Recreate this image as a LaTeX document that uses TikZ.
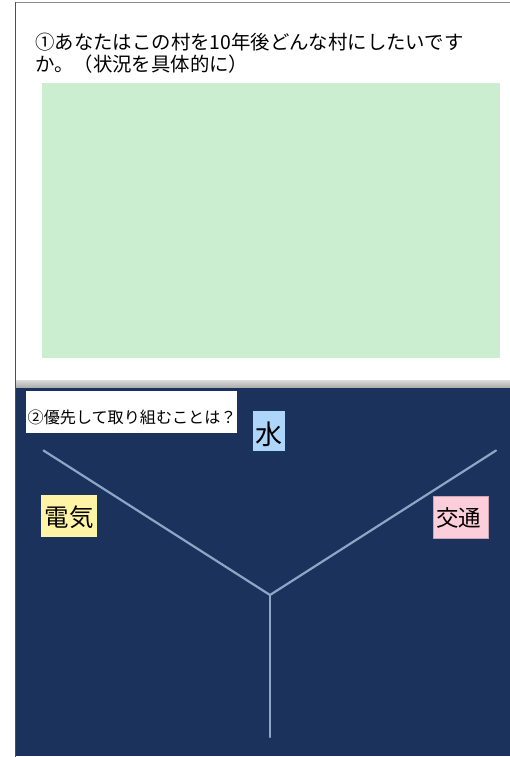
\documentclass[tikz,border=0pt]{standalone}
\usepackage{fontspec}
\setmainfont{Noto Sans CJK JP}
\definecolor{navy}{HTML}{1B325C}
\definecolor{armline}{HTML}{8CA6C6}
\definecolor{greenfill}{HTML}{CBEED1}
\definecolor{bluefill}{HTML}{AED6FA}
\definecolor{yellowfill}{HTML}{FFF4A6}
\definecolor{pinkfill}{HTML}{FCCDDA}
\definecolor{framegray}{HTML}{505050}
\begin{document}
\begin{tikzpicture}[x=1pt,y=-1pt,
  txt/.style={inner sep=0pt,anchor=base west,text=black},
  arm/.style={draw=armline,line width=2.2pt,line cap=round}]
\useasboundingbox (0,0) rectangle (510,757);
\fill[white] (0,0) rectangle (510,757);
% top white panel
\fill[white] (16,3) rectangle (510,380);
% separator band
\shade[top color=black!14,bottom color=black!34] (16,380) rectangle (510,388);
% navy panel
\fill[navy] (16,388) rectangle (510,756);
% frame lines
\draw[black!45,line width=1pt] (15,2.5) -- (510,2.5);
\draw[framegray,line width=1.2pt] (15.5,2) -- (15.5,757);
% green answer area
\node[fill=greenfill,minimum width=458,minimum height=275,inner sep=0pt,anchor=north west] (answer) at (42,83) {};
% question 1
\node[txt,font=\fontsize{19.4}{22}\selectfont] (q1a) at (35,49.5) {①あなたはこの村を10年後どんな村にしたいです};
\node[txt,font=\fontsize{19.4}{22}\selectfont] (q1b) at (35,71.5) {か。（状況を具体的に）};
% question 2 box
\node[fill=white,minimum width=211,minimum height=42,inner sep=0pt,anchor=north west] (q2box) at (26,391) {};
\node[txt,font=\fontsize{16.1}{18}\selectfont] (q2) at (27.5,423.5) {②優先して取り組むことは？};
% Y lines
\coordinate (c) at (270,595);
\coordinate (lt) at (43.5,450.5);
\coordinate (rt) at (496,450.5);
\coordinate (bt) at (270,737);
\draw[arm] (lt) -- (c) -- (rt);
\draw[arm] (c) -- (bt);
% labels
\node[fill=bluefill,minimum width=32,minimum height=40,inner sep=0pt,anchor=north west] (waterbox) at (253,411) {};
\node[font=\fontsize{27}{30}\selectfont,inner sep=0pt] (water) at (269,434) {水};
\node[fill=yellowfill,minimum width=56,minimum height=42,inner sep=0pt,anchor=north west] (elecbox) at (41,495) {};
\node[font=\fontsize{24.5}{28}\selectfont,inner sep=0pt] (elec) at (69,517.5) {電気};
\node[fill=pinkfill,draw=pinkfill!80!black,line width=0.4pt,minimum width=55,minimum height=42,inner sep=0pt,anchor=north west] (trafbox) at (433,496) {};
\node[font=\fontsize{22.5}{26}\selectfont,inner sep=0pt] (traf) at (458.5,518) {交通};
\end{tikzpicture}
\end{document}
